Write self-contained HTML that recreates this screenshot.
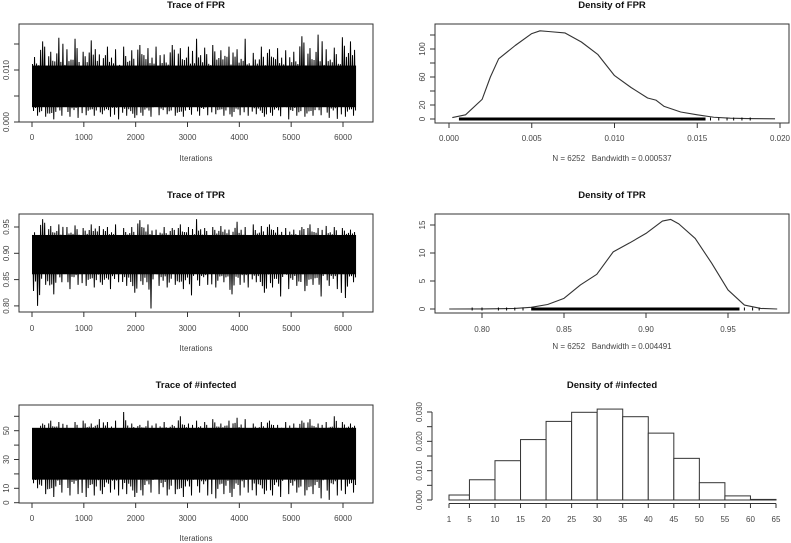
<!DOCTYPE html>
<html><head><meta charset="utf-8"><style>
html,body{margin:0;padding:0;background:#fff}
svg{display:block;font-family:"Liberation Sans",sans-serif}
.t{font-weight:bold;font-size:9.5px;fill:#111}
.l{font-size:8px;fill:#444}
</style></head><body>
<svg id="c" width="791" height="543" viewBox="0 0 791 543" xmlns="http://www.w3.org/2000/svg"></svg>
<script>
// ---- data ----
const traceTicks = [0,1000,2000,3000,4000,5000,6000];
const nIter = 6252;
const fprHi = [0.0125,0.0155,0.0135,0.0162,0.014,0.016,0.0135,0.0157,0.013,0.0145,0.014,0.0145,0.0138,0.0148,0.0142,0.0145,0.013,0.0148,0.0142,0.0145,0.016,0.0143,0.0148,0.0138,0.0145,0.014,0.016,0.0133,0.0145,0.014,0.0142,0.0138,0.0135,0.0165,0.0142,0.0168,0.014,0.0143,0.0163,0.0155];
const fprLo = [0.0012,0.001,0.0005,0.0012,0.001,0.0008,0.0013,0.0012,0.0015,0.001,0.0005,0.0012,0.0008,0.0012,0.001,0.0013,0.0015,0.0012,0.001,0.0014,0.0012,0.0013,0.0015,0.0012,0.001,0.0013,0.0012,0.0015,0.001,0.0012,0.0011,0.0005,0.0012,0.001,0.0012,0.0013,0.0008,0.0006,0.001,0.0012];
const fprCore = [0.0024,0.0113];
const tprHi = [0.94,0.965,0.952,0.955,0.95,0.953,0.948,0.955,0.952,0.95,0.955,0.948,0.95,0.963,0.955,0.945,0.95,0.948,0.955,0.95,0.965,0.948,0.95,0.952,0.945,0.96,0.95,0.955,0.952,0.955,0.95,0.948,0.945,0.95,0.955,0.948,0.952,0.95,0.948,0.945];
const tprLo = [0.80,0.84,0.822,0.845,0.832,0.84,0.838,0.835,0.84,0.832,0.845,0.838,0.825,0.84,0.795,0.838,0.835,0.84,0.832,0.82,0.838,0.84,0.835,0.845,0.822,0.84,0.835,0.845,0.825,0.835,0.818,0.832,0.838,0.828,0.84,0.818,0.838,0.832,0.815,0.845];
const tprCore = [0.856,0.939];
const infHi = [51,55,57,56,54,56,57,55,58,56,57,63,55,54,57,55,56,54,60,55,57,56,58,55,57,59,58,55,56,57,54,56,55,57,58,55,56,60,56,55];
const infLo = [10,6,4,7,5,6,4,5,6,7,5,6,4,5,7,6,5,6,4,5,7,5,3,6,4,5,7,5,6,5,4,6,7,5,6,3,2,5,6,7];
const infCore = [14,54];
const fprDensX = [0.0002,0.001,0.002,0.0025,0.003,0.004,0.005,0.0055,0.006,0.007,0.008,0.009,0.010,0.011,0.012,0.0125,0.013,0.014,0.015,0.016,0.017,0.018,0.0197];
const fprDensY = [2,6,28,60,86,105,122,126,125,123,110,92,62,45,30,27,18,10,6,2.5,1.2,0.6,0.3];
const fprDensTicksX = [0,0.005,0.010,0.015,0.020];
const fprDensTickLbl = ["0.000","0.005","0.010","0.015","0.020"];
const fprDensTicksY = [0,20,40,60,80,100,120];
const fprDensLblY = ["0","20","","60","","100",""];
const tprDensX = [0.78,0.80,0.82,0.83,0.84,0.85,0.86,0.87,0.88,0.89,0.90,0.91,0.915,0.92,0.93,0.94,0.95,0.96,0.97,0.98];
const tprDensY = [0,0.02,0.1,0.3,0.8,1.9,4.3,6.2,10.2,11.8,13.5,15.7,16,15.2,12.6,8.2,3.4,0.7,0.1,0];
const tprDensTicksX = [0.80,0.85,0.90,0.95];
const tprDensTickLbl = ["0.80","0.85","0.90","0.95"];
const tprDensTicksY = [0,5,10,15];
const histBreaks = [1,5,10,15,20,25,30,35,40,45,50,55,60,65];
const histDens = [0.0017,0.0069,0.0134,0.0206,0.0268,0.0299,0.031,0.0284,0.0228,0.0142,0.0059,0.0014,0.0002];
const histTicksY = [0,0.005,0.010,0.015,0.020,0.025,0.030];
const histLblY = ["0.000","","0.010","","0.020","","0.030"];

// ---- drawing ----
const svg = document.getElementById('c');
const NS = 'http://www.w3.org/2000/svg';
const PAT = [0.45,1,0.3,0.7,0.2,0.85,0.55,0.1,0.65,0.35,0.9,0.25,0.5,0.75,0.15,0.6];
function mk(tag, attrs, parent){const e=document.createElementNS(NS,tag);for(const k in attrs)e.setAttribute(k,attrs[k]);(parent||svg).appendChild(e);return e;}
function txt(x,y,s,cls,rot){const e=mk('text',{x:x,y:y,'text-anchor':'middle',class:cls});if(rot)e.setAttribute('transform','rotate(-90 '+x+' '+y+')');e.textContent=s;return e;}

function trace(name, title, y0, y1, yfn, hi, lo, core, yt, ylbl, tickLblY, iterY, titleY){
  const g = mk('g',{});
  
  
  const xs = i => 32 + i*(343-32)/6000;
  const t = txt(196,titleY,title,'t'); g.appendChild(t);
  
  
  const span = core[1]-core[0];
  const inLo = core[0]+span*0.05, inHi = core[1]-span*0.05;
  const band = mk('rect',{x:xs(0),y:yfn(inHi),width:xs(nIter)-xs(0),height:yfn(inLo)-yfn(inHi),fill:'#000'},g);
  
  
  const n = hi.length, w = nIter/n, K = 8;
  let pts = [];
  for(let b=0;b<n;b++){
    for(let j=0;j<K;j++){
      const a = b*w + (j+0.5)*w/K;
      const f = PAT[(b*5+j*3)%PAT.length];
      let v;
      if(j%2===0){
        v = (j===2) ? hi[b] : core[1] - span*0.1 + (hi[b]-core[1]+span*0.1)*f*0.8;
      } else {
        v = (j===5) ? lo[b] : core[0] + span*0.1 - (core[0]+span*0.1-lo[b])*f*0.8;
      }
      pts.push(xs(a)+','+yfn(v));
    }
  }
  const pl = mk('polyline',{points:pts.join(' '),fill:'none',stroke:'#000','stroke-width':1},g);
  
  
  const box = mk('rect',{x:19,y:y0,width:354,height:y1-y0,fill:'none',stroke:'#333','stroke-width':1},g);
  
  
  traceTicks.forEach(v=>{mk('line',{x1:xs(v),x2:xs(v),y1:y1,y2:y1+5,stroke:'#333'},g);g.appendChild(txt(xs(v),tickLblY,String(v),'l'));});
  yt.forEach((v,k)=>{mk('line',{x1:14,x2:19,y1:yfn(v),y2:yfn(v),stroke:'#333'},g);if(ylbl[k])g.appendChild(txt(9,yfn(v),ylbl[k],'l',true));});
  const it = txt(196,iterY,'Iterations','l'); g.appendChild(it);
  
  
}

trace('trace-fpr','Trace of FPR',24,122,v=>122-v*5200,fprHi,fprLo,fprCore,[0,0.005,0.010,0.015],["0.000","","0.010",""],140,161,8);
trace('trace-tpr','Trace of TPR',214,312,v=>227+(0.95-v)*526,tprHi,tprLo,tprCore,[0.80,0.85,0.90,0.95],["0.80","0.85","0.90","0.95"],331,351,198);
trace('trace-infected','Trace of #infected',405,503,v=>502.7-v*1.44,infHi,infLo,infCore,[0,10,20,30,40,50,60],["0","10","","30","","50",""],521,541,388);

function dens(name,title,y0,y1,xf,yf,dx,dy,tx,tl,ty,tyl,titleY,tickLblY,nY,rugLo,rugHi,rugSparse,bw){
  const g = mk('g',{});
  
  
  const t = txt(612,titleY,title,'t'); g.appendChild(t);
  
  
  const box = mk('rect',{x:435,y:y0,width:354,height:y1-y0,fill:'none',stroke:'#333'},g);
  
  
  const pts = dx.map((v,i)=>xf(v)+','+yf(dy[i])).join(' ');
  const pl = mk('polyline',{points:pts,fill:'none',stroke:'#333','stroke-width':1.1,'stroke-linejoin':'round'},g);
  
  
  const rug = mk('line',{x1:xf(rugLo),x2:xf(rugHi),y1:yf(0),y2:yf(0),stroke:'#000','stroke-width':3},g);
  
  
  rugSparse.forEach(v=>mk('line',{x1:xf(v),x2:xf(v),y1:yf(0)-1.5,y2:yf(0)+1.5,stroke:'#000'},g));
  tx.forEach((v,k)=>{mk('line',{x1:xf(v),x2:xf(v),y1:y1,y2:y1+5,stroke:'#333'},g);g.appendChild(txt(xf(v),tickLblY,tl[k],'l'));});
  ty.forEach((v,k)=>{mk('line',{x1:430,x2:435,y1:yf(v),y2:yf(v),stroke:'#333'},g);if(tyl[k])g.appendChild(txt(425,yf(v),tyl[k],'l',true));});
  const nl = txt(612,nY,'N = 6252\u00a0\u00a0\u00a0Bandwidth = '+bw,'l'); g.appendChild(nl);
  
  
}
dens('density-fpr','Density of FPR',24,123,v=>449+v*16550,d=>119-d*0.7,fprDensX,fprDensY,fprDensTicksX,fprDensTickLbl,fprDensTicksY,fprDensLblY,8,141,161,0.0006,0.0155,[0.0158,0.0163,0.0168,0.0172,0.0177,0.0182],'0.000537');
dens('density-tpr','Density of TPR',214,313,v=>482+(v-0.8)*1640,d=>309-d*5.6,tprDensX,tprDensY,tprDensTicksX,tprDensTickLbl,tprDensTicksY,["0","5","10","15"],198,332,349,0.83,0.957,[0.794,0.80,0.81,0.815,0.82,0.825,0.96,0.965,0.969],'0.004491');

// histogram
(function(){
  const g = mk('g',{});
  
  
  const xf = v => 449 + (v-1)*327/64, yf = d => 500 - d*2933;
  const t = txt(612,388,'Density of #infected','t'); g.appendChild(t);
  
  
  histDens.forEach((d,i)=>{
    const r = mk('rect',{x:xf(histBreaks[i]),y:yf(d),width:xf(histBreaks[i+1])-xf(histBreaks[i]),height:yf(0)-yf(d),fill:'#fff',stroke:'#333','stroke-width':1},g);
    
    
  });
  mk('line',{x1:xf(1),x2:xf(65),y1:503.5,y2:503.5,stroke:'#333'},g);
  histBreaks.forEach(v=>{mk('line',{x1:xf(v),x2:xf(v),y1:503.5,y2:508,stroke:'#333'},g);g.appendChild(txt(xf(v),522,String(v),'l'));});
  mk('line',{x1:432,x2:432,y1:yf(0),y2:yf(0.030),stroke:'#333'},g);
  histTicksY.forEach((v,k)=>{mk('line',{x1:427,x2:432,y1:yf(v),y2:yf(v),stroke:'#333'},g);if(histLblY[k])g.appendChild(txt(422,yf(v),histLblY[k],'l',true));});
})();
</script>
</body></html>
